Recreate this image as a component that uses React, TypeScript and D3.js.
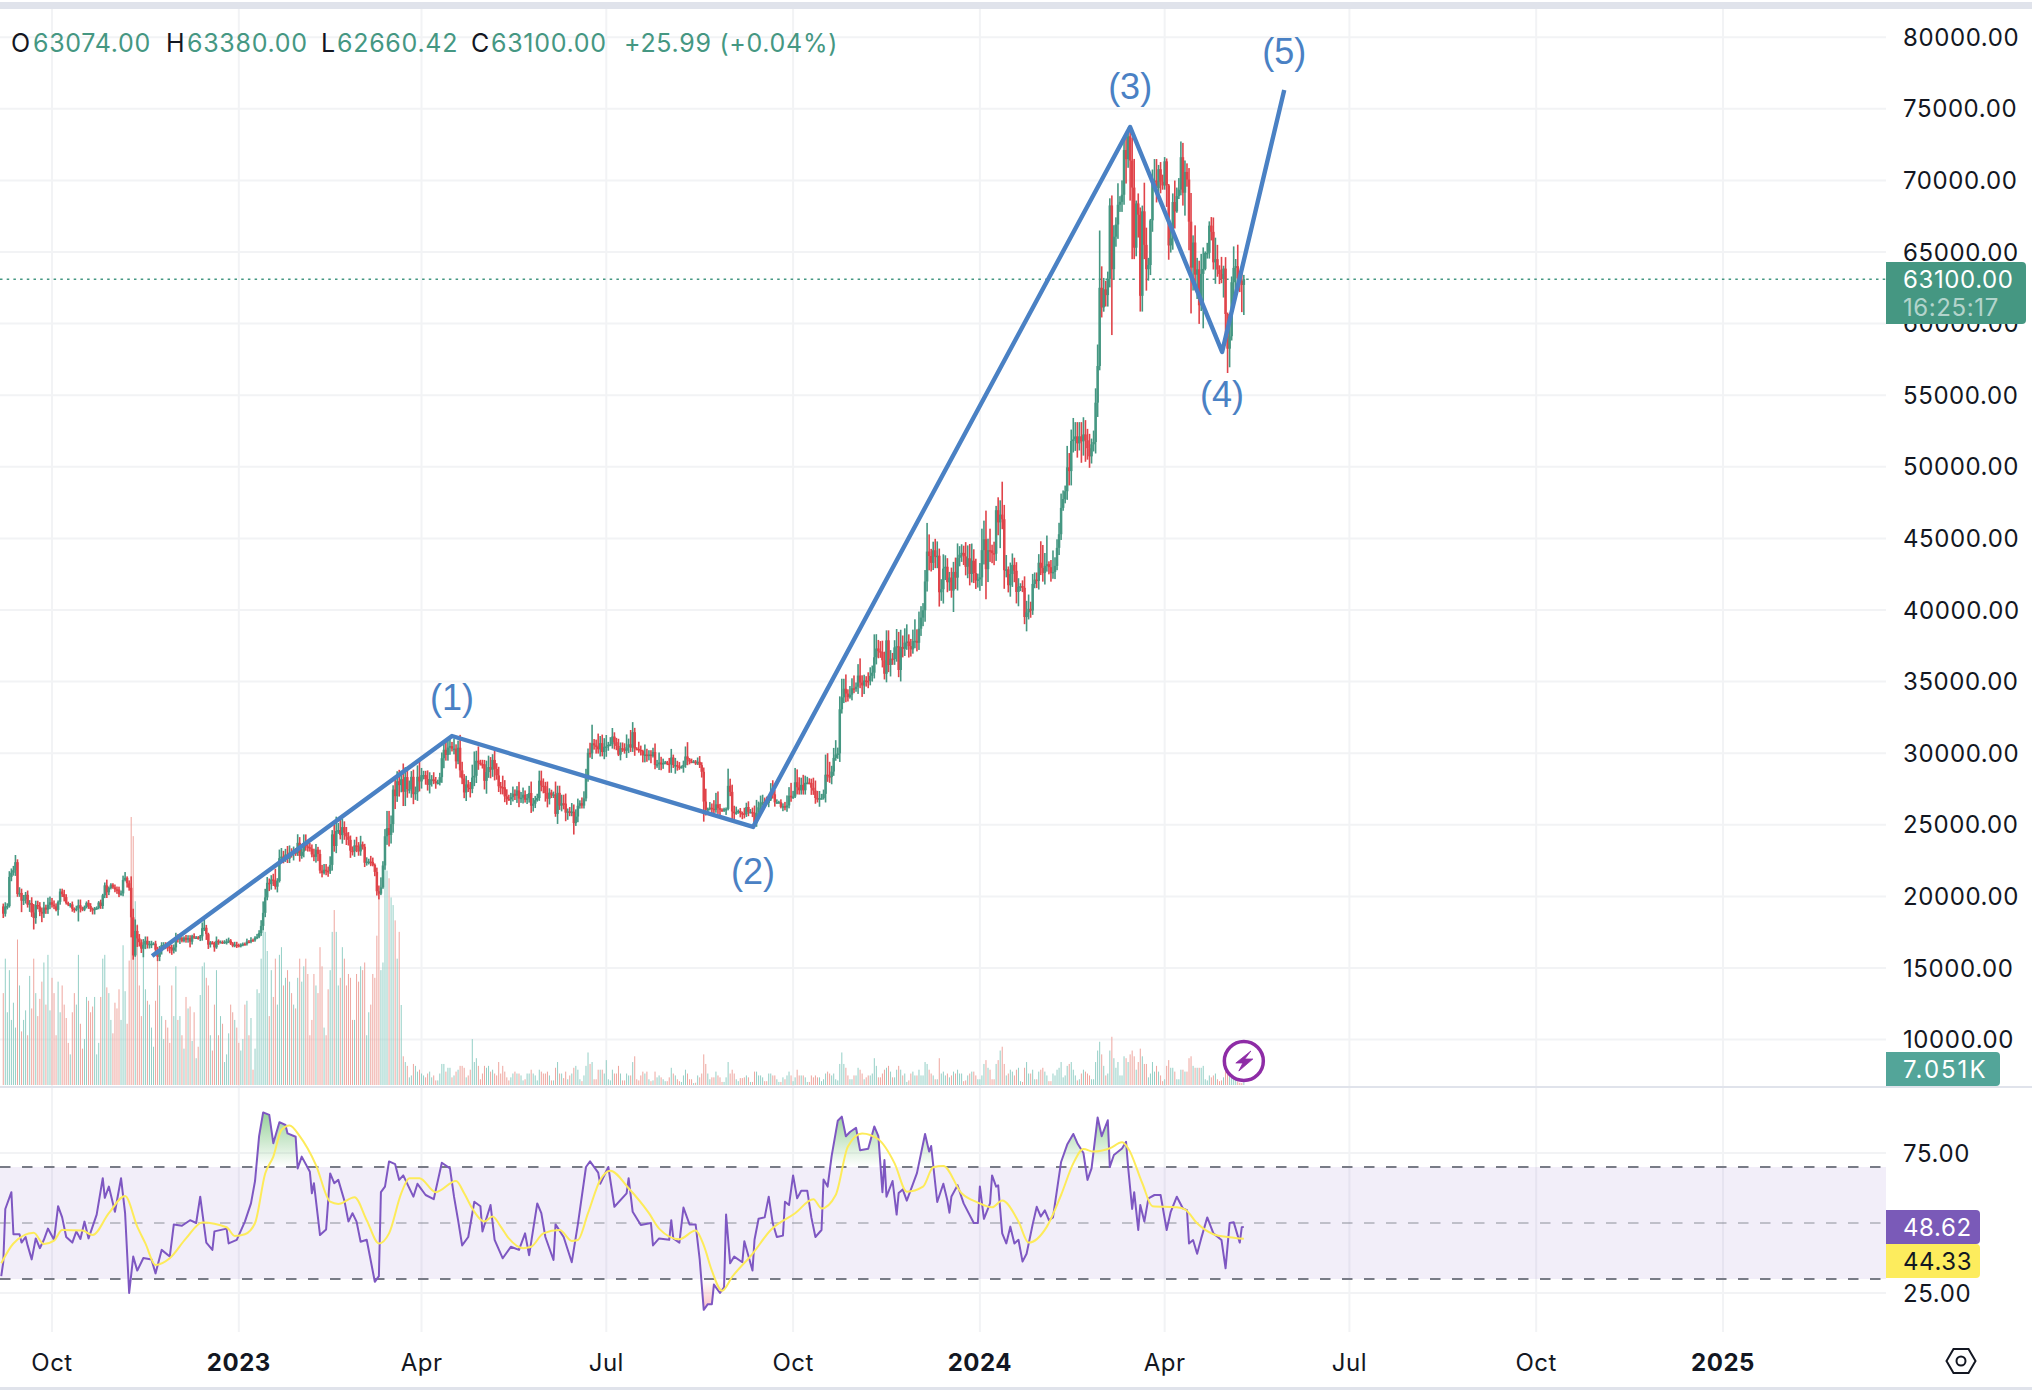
import React from "react";
import * as d3 from "d3";

// daily closes in thousands, first bar plotted on 2022-09-07
const closes = [
  18.79,19.29,19.32,21.36,21.65,21.83,22.39,20.17,20.24,19.70,19.80,20.11,19.42,19.54,18.87,18.49,19.40,19.30,18.92,18.80,19.22,19.08,19.41,19.59,19.42,
  19.31,19.06,19.62,20.34,20.16,19.95,19.53,19.42,19.44,19.13,19.06,19.15,19.38,19.18,19.07,19.26,19.55,19.33,19.12,19.04,19.16,19.20,19.57,19.33,20.08,20.77,20.29,20.59,20.82,20.63,20.49,
  20.48,20.15,20.21,21.15,21.30,20.92,20.60,18.54,15.88,17.59,17.07,16.80,16.35,16.62,16.90,16.66,16.69,16.70,16.70,16.28,15.78,16.24,16.60,16.60,16.52,16.46,16.43,16.22,16.44,17.16,
  16.98,17.09,16.89,17.11,16.97,17.09,16.84,17.22,17.13,17.13,17.08,17.21,17.78,17.81,17.36,16.63,16.78,16.74,16.44,16.90,16.82,16.82,16.78,16.84,16.84,16.92,16.71,16.55,16.63,16.60,16.54,
  16.62,16.68,16.67,16.85,16.83,16.95,16.94,17.12,17.18,17.44,17.94,18.85,19.93,20.95,20.87,21.18,21.13,20.68,21.07,22.67,22.78,22.71,22.92,22.63,23.06,23.01,23.08,23.03,23.74,22.83,23.13,
  23.73,23.49,23.43,23.33,22.93,22.76,23.26,22.96,21.80,21.63,21.86,21.78,21.77,22.20,24.33,23.52,24.57,24.63,24.28,24.84,24.45,24.19,23.95,23.19,23.16,23.56,23.49,23.14,
  23.63,23.47,22.35,22.43,22.43,22.41,22.20,21.71,20.36,20.19,20.63,22.16,24.20,24.77,24.29,25.05,27.46,27.00,28.04,27.77,28.18,27.31,28.33,27.49,27.49,28.35,27.14,27.27,28.35,28.03,28.47,
  28.47,28.20,27.79,28.17,28.17,28.04,27.92,27.95,28.33,29.65,30.24,29.88,30.39,30.49,30.32,30.32,29.43,30.38,28.80,28.24,27.26,27.82,27.59,27.51,28.30,28.42,29.47,29.34,29.24,29.23,
  28.07,28.68,29.03,28.85,29.53,28.90,28.45,27.69,27.63,27.62,26.98,26.80,26.78,26.93,27.17,27.03,27.40,26.83,26.89,27.10,26.75,26.85,27.22,26.33,26.47,26.72,26.87,28.08,27.74,27.70,27.22,
  26.82,27.25,27.07,27.12,25.76,27.23,26.34,26.50,26.48,25.85,25.94,25.90,25.92,25.12,25.58,26.33,26.51,26.34,26.84,28.31,30.03,29.99,30.69,30.55,30.47,30.27,30.70,30.08,30.45,30.47,
  30.59,30.62,31.16,30.77,30.51,29.90,30.35,30.29,30.17,30.41,30.62,30.39,31.47,30.32,30.30,30.23,30.14,29.86,29.91,29.80,29.91,29.80,30.08,29.18,29.23,29.35,29.21,29.32,29.36,29.27,29.23,
  29.70,29.17,29.17,29.08,29.04,29.04,29.18,29.77,29.56,29.42,29.40,29.42,29.28,29.40,29.17,28.70,26.62,26.05,26.10,26.19,26.12,26.04,26.43,26.16,26.05,26.00,26.09,26.11,27.72,27.30,25.93,
  25.80,25.87,25.97,25.82,25.79,25.75,26.24,25.90,25.90,25.84,25.16,25.84,26.22,26.54,26.60,26.57,26.53,26.76,27.21,27.13,26.57,26.58,26.58,26.25,26.30,26.21,26.35,27.03,26.91,26.97,
  27.97,27.62,27.41,27.79,27.41,27.93,27.95,27.92,27.59,27.39,26.87,26.76,26.86,26.86,27.16,28.50,28.40,28.33,28.72,29.67,29.91,29.99,33.07,33.90,34.50,34.16,33.91,34.09,34.53,34.49,34.64,
  35.42,34.94,34.73,35.08,35.05,35.04,35.40,35.62,36.70,37.31,37.13,37.06,36.49,35.55,37.88,36.16,36.60,36.57,37.39,37.47,35.81,37.42,37.29,37.72,37.80,37.48,37.25,37.83,37.85,37.71,
  38.69,39.47,39.98,41.99,44.08,43.77,43.29,44.17,43.72,43.79,41.24,41.45,42.89,43.02,41.94,42.26,41.36,42.66,42.26,43.65,43.86,43.99,43.74,43.02,43.61,42.52,43.44,42.58,42.07,42.14,42.28,
  44.18,44.94,42.85,44.18,44.16,43.97,43.93,46.97,46.12,46.66,46.34,42.78,42.84,41.73,42.51,43.15,42.74,41.26,41.62,41.67,41.55,39.51,39.84,40.08,39.96,41.82,42.12,42.03,43.30,42.94,42.58,
  43.08,43.20,42.99,42.58,42.66,43.08,44.34,45.29,47.13,47.75,48.29,49.96,49.70,51.80,51.91,52.12,51.64,52.12,51.78,52.26,51.85,51.30,50.73,51.57,51.73,54.48,57.04,62.50,61.13,
  62.39,61.99,63.13,68.25,63.80,66.07,66.92,68.30,68.50,69.00,72.12,71.48,73.08,71.39,69.50,65.30,68.39,67.61,61.94,67.84,65.50,63.80,64.09,67.21,69.96,69.99,69.46,70.78,69.90,69.65,71.33,
  69.65,65.46,65.96,68.49,67.84,68.90,69.36,71.62,69.14,70.59,70.06,67.12,63.91,65.66,63.42,63.79,61.28,63.47,63.82,64.94,64.94,66.84,66.41,64.28,64.50,63.77,63.46,63.12,63.84,60.67,
  58.25,59.12,62.89,63.89,64.01,63.16,63.0,62.7,63.1,
];

// wick lengths above and below the body, in units of 100
const wickUp = [
  2,3,2,4,3,3,5,2,4,3,3,2,3,2,4,6,3,3,3,3,4,2,5,4,3,
  3,2,1,2,2,3,2,1,1,2,1,2,4,4,1,1,1,2,2,1,1,1,1,2,1,2,4,1,1,1,2,
  2,2,2,3,4,1,2,8,6,8,4,3,2,4,3,3,2,2,1,2,2,3,2,2,2,1,3,2,2,3,
  2,1,1,1,2,2,2,1,2,1,1,1,4,6,2,1,1,1,1,3,1,1,1,1,2,2,1,1,2,2,1,
  1,1,1,2,1,2,1,1,2,2,4,8,6,4,3,3,4,8,2,6,6,4,4,6,5,3,4,3,6,4,2,
  6,6,3,3,3,4,4,2,3,4,4,4,3,6,3,9,10,5,8,6,4,4,3,3,3,4,6,3,
  6,2,2,3,2,4,3,1,3,4,7,3,5,12,12,6,3,9,7,8,6,11,7,7,6,4,5,4,8,12,5,
  3,3,6,5,3,5,3,2,3,4,6,6,5,6,3,7,3,5,9,6,3,6,3,4,9,17,7,10,2,3,
  3,8,8,7,4,7,4,6,3,8,5,5,3,3,5,3,3,6,4,5,3,3,5,8,4,3,3,7,7,5,3,
  8,3,2,2,9,5,5,6,6,7,2,3,6,5,5,5,2,4,5,6,3,7,13,3,4,9,5,6,6,8,
  2,5,6,3,3,5,4,4,4,9,4,10,7,3,1,5,3,1,7,4,3,3,3,6,3,7,4,3,1,1,4,
  6,2,5,3,3,1,3,7,10,1,2,1,1,3,4,2,3,9,1,4,3,6,8,9,3,1,1,1,12,5,5,
  4,4,1,2,1,4,3,4,2,3,5,9,4,5,5,3,4,3,7,9,3,2,1,2,2,3,7,6,9,4,
  10,9,7,5,7,5,4,3,3,7,7,5,5,3,3,14,15,10,4,7,10,4,9,13,7,10,3,6,7,9,3,
  8,12,5,4,3,6,6,5,16,10,6,7,8,6,7,7,6,4,5,12,10,12,8,10,12,5,5,8,15,8,
  12,8,5,8,20,12,5,6,8,10,5,7,10,8,6,4,7,7,10,10,6,6,5,10,9,10,12,8,10,4,10,
  15,13,20,8,15,4,8,3,9,10,23,10,10,2,8,8,5,6,6,2,4,8,8,10,5,7,5,5,6,15,16,
  9,20,2,5,15,6,6,8,10,6,4,15,10,8,15,10,10,10,10,12,10,8,10,4,8,10,15,40,15,
  8,6,5,5,7,8,5,15,4,10,8,11,6,3,16,20,2,7,5,4,20,12,5,1,8,15,15,3,5,5,3,
  2,1,10,6,15,6,8,11,10,8,6,8,20,5,12,8,6,14,15,1,7,3,6,10,15,10,3,12,2,8,
  1,10,4,15,5,15,5,6,3,
];
const wickDown = [
  3,2,2,1,3,2,4,2,2,8,3,3,2,5,3,8,4,2,3,6,3,3,3,3,2,
  2,1,4,2,2,3,1,1,2,2,2,1,9,3,1,1,1,2,2,3,3,1,1,2,2,2,4,2,1,1,2,
  3,2,1,2,1,3,2,14,3,1,6,3,3,6,3,3,3,3,1,4,3,3,3,2,2,3,4,3,2,3,
  2,3,1,1,2,2,4,2,1,1,1,2,3,2,4,3,2,1,3,1,2,1,1,1,2,1,1,1,1,2,1,
  1,1,1,1,1,1,1,1,1,1,2,3,3,2,5,4,4,2,4,1,3,4,3,3,3,3,5,2,2,4,2,
  4,3,3,2,2,3,4,5,2,3,1,3,4,2,4,4,5,2,3,6,5,6,4,5,3,4,4,3,
  3,2,3,2,2,3,1,3,3,4,1,1,3,6,8,6,6,9,4,8,5,10,10,6,3,6,7,4,6,7,5,
  3,4,4,6,5,2,4,1,2,4,7,4,4,5,2,4,5,2,5,4,4,6,3,6,3,6,5,5,1,3,
  6,9,4,6,5,8,3,4,5,5,4,4,1,4,3,3,5,6,3,4,2,3,3,5,4,3,1,2,4,5,6,
  6,4,2,2,2,7,3,4,4,6,5,3,3,8,2,4,2,2,2,2,3,3,4,3,5,3,5,3,5,7,
  3,1,3,5,3,1,4,2,2,5,4,3,3,5,1,2,3,5,5,4,3,5,1,3,2,4,4,3,1,1,6,
  6,2,6,3,2,1,4,2,4,2,1,1,1,1,2,4,14,4,3,1,3,3,2,4,4,1,1,4,1,3,6,
  5,1,1,3,4,3,2,3,1,3,3,3,2,2,2,2,1,3,1,3,3,1,1,1,3,2,3,2,3,1,
  1,5,3,3,3,3,1,1,5,3,4,2,5,1,1,6,4,4,5,3,2,3,6,3,4,6,3,1,4,3,2,
  5,4,8,6,4,5,3,4,4,5,5,4,5,4,6,5,8,4,4,10,5,8,6,5,5,8,5,3,5,6,
  5,5,6,8,7,10,6,5,8,8,10,6,10,8,7,6,5,15,8,9,6,5,6,6,8,8,6,7,6,5,8,
  6,10,21,9,8,7,8,5,9,18,7,13,5,5,8,9,8,8,10,3,3,5,10,5,5,3,3,5,6,5,6,
  8,4,5,6,4,5,3,5,4,2,3,6,10,10,8,8,10,5,15,10,15,8,8,5,5,8,10,3,7,
  3,8,8,6,46,7,7,10,5,7,7,17,6,28,50,8,6,16,11,11,10,15,8,7,8,7,10,6,8,3,3,
  15,10,5,8,12,1,2,4,9,16,5,20,32,16,11,17,13,4,38,1,4,4,6,5,15,5,7,3,13,15,
  17,13,3,10,14,6,8,19,21,
];

// volume in thousands
const volumes = [
  240,330,190,300,170,215,150,380,260,140,170,195,130,285,200,330,240,180,225,270,320,210,340,195,280,
  240,130,270,190,260,210,175,110,80,190,240,210,340,160,95,120,230,220,190,205,230,80,110,230,330,340,255,240,170,135,215,
  200,250,170,365,245,160,325,700,650,480,420,260,180,370,250,220,210,150,100,220,330,260,180,120,170,150,110,260,180,310,
  170,180,130,95,230,200,205,115,190,70,100,235,310,320,280,260,130,90,210,300,130,180,160,60,80,135,210,190,170,150,110,
  90,120,210,220,130,175,40,95,250,240,330,440,400,350,180,300,230,330,210,340,360,260,280,300,270,240,210,200,280,330,270,
  310,330,290,130,170,290,260,240,360,310,150,130,250,300,400,457,400,260,280,360,330,260,290,280,170,170,290,270,
  310,300,320,130,190,210,290,280,390,500,300,320,575,560,540,490,470,430,330,400,209,
  75,60,50,20,25,55,50,35,40,30,
  25,20,30,35,20,25,12,12,30,55,55,35,45,45,20,25,35,40,50,50,45,20,25,40,120,60,70,50,15,30,
  50,45,50,35,40,30,25,60,30,50,35,20,12,20,30,35,30,30,25,12,15,30,30,40,30,25,12,40,35,30,30,
  35,25,12,12,45,60,30,30,18,35,15,25,30,45,50,40,15,10,25,50,85,55,60,15,15,40,40,40,30,65,
  15,12,40,30,30,50,30,12,12,30,25,25,60,75,15,12,25,35,30,35,15,10,12,35,20,25,20,15,10,10,20,
  45,30,25,15,10,8,25,40,30,15,15,5,6,25,20,30,80,55,30,15,20,20,35,25,20,8,8,20,60,30,40,
  30,15,10,18,18,20,25,20,8,8,35,35,25,25,20,10,10,30,30,25,25,15,8,8,20,15,25,35,25,10,
  20,40,25,25,25,20,8,8,25,20,25,20,20,10,15,30,35,30,25,30,15,12,55,85,55,45,25,15,15,25,25,
  45,40,30,15,20,25,25,30,70,50,20,20,30,40,45,50,35,20,20,40,50,40,25,30,8,12,30,35,25,25,
  40,25,25,60,55,40,30,25,15,15,70,30,35,25,30,20,25,35,30,40,30,30,10,12,25,30,35,35,25,15,15,
  25,55,65,45,40,15,15,55,65,90,100,55,25,30,40,35,25,40,45,10,8,45,60,30,30,40,15,15,35,40,45,
  35,25,10,10,30,25,40,45,60,20,25,50,55,60,40,25,12,15,30,40,35,30,25,15,15,60,90,113,80,
  50,25,30,90,126,70,45,60,25,25,75,70,60,80,90,75,40,60,95,75,55,55,20,30,60,35,50,35,25,10,15,
  50,65,45,45,35,15,15,40,40,35,35,70,75,50,45,45,45,45,50,15,12,25,20,25,30,15,10,12,20,55,
  50,35,22,18,15,10,6,5,7.051,
];

// RSI: bar number and value
const rsiBars = [
  -1,0,1,4,5,8,9,11,12,14,16,18,20,22,25,27,29,31,34,36,38,40,42,46,49,50,52,55,58,60,62,64,66,69,73,75,78,82,84,88,92,95,97,100,103,104,110,111,115,119,122,124,126,128,131,133,136,139,140,144,145,147,151,152,153,156,159,161,163,165,168,170,172,174,176,179,183,185,186,188,190,193,195,197,202,204,208,212,216,220,222,224,226,229,232,235,236,240,242,246,250,254,257,259,263,265,267,271,272,276,280,283,287,289,293,294,298,301,307,308,310,314,319,
  320,323,328,329,330,333,335,338,341,343,345,347,349,350,353,355,356,358,360,364,365,369,370,372,375,377,379,381,384,385,387,389,391,393,396,398,400,403,404,406,408,411,413,415,417,420,422,426,429,431,433,434,435,438,440,441,443,445,450,454,456,457,460,463,465,466,467,470,473,478,480,481,483,486,487,489,490,492,494,496,498,500,502,504,507,509,511,513,515,517,521,524,527,529,532,534,536,539,541,544,545,547,551,553,554,556,557,559,560,562,564,567,570,573,575,578,581,583,584,586,588,590,593,596,600,602,604,606,609,610,611,
];
const rsiValues = [
  31,36,55,61,46,46,43,45,42,37,44.5,41,44,48,44,56,52,45,43,47,44.3,50.5,44.5,53,66,59,63,54,66,53.5,25,38,33,37.5,37,32,40.4,38,49.5,49,51,50,59.4,43,40.4,47,48,42.7,44,50.5,57,65,81,89.5,88.6,78.5,86,85,82,80.8,69.5,73.7,68.3,60.6,64.2,45.7,47.7,67.7,64.2,65.4,58,50.5,53.5,50.5,43.3,44,29,31,61,63,72,71,65.4,67,59.4,64,60,58.5,71.5,69.5,59.4,51,42,45,57.6,56,47,56.4,44,37.4,41.5,40.4,46.3,38.5,57,53.5,45,36.8,49.5,45,36,49.5,70,72,68,64,70,55.8,60.6,66,54,49.3,50,
  42,44.5,44,51,44.5,43,55.5,49.5,49.5,37,19,21,21,28,25,27,53,35.6,38,36,43.5,33,44,51.5,52,59.4,49.9,45,45.5,57.6,56.4,67,58.8,61.5,61.5,52,45,47.5,65.5,63,74,86.5,88,81,82.5,84,76,76.5,84.5,81,61,72.5,59.4,65,53,60.7,62,58,67.8,81.8,75.5,77.5,57.5,64,58,53.7,59.5,63.5,57,50,50,63,51.5,57,67,63,63.5,46.3,42.7,48.7,42.7,44,36.2,39,49.5,55.8,52.3,54.5,51,52,71.8,78,81.8,78.5,75,65.4,69.5,87.7,81,86.7,70,74.3,76.6,79,70,55,61,47.5,56.4,50.5,58.8,60,60,47.5,54,59.4,55.2,54.6,42.7,43.9,39,44.5,52,46.3,43.9,33.8,50,50.3,43,48.5,48.62,
];

// RSI moving average, same reading
const maBars = [
  -1,5,15,20,25,29,39,44,52,60,66,70,75,82,90,98,110,114,119,124,129,133,137,141,146,154,161,165,173,179,185,190,196,200,205,213,223,227,231,237,241,245,249,256,260,266,274,280,283,288,294,299,308,318,
  323,333,341,345,349,354,359,369,378,390,399,403,410,416,423,431,439,445,453,458,463,472,480,487,492,500,505,514,521,527,532,537,545,551,554,561,566,578,582,588,596,604,611,
];
const maValues = [
  35.6,42.7,46.5,42.5,43.7,47.5,47.3,45.7,53.5,59.6,48.7,42.7,35,37.4,44.5,50.2,48.5,45.4,46,50,67.7,73.7,83.2,84.8,81,70.7,57.6,56.8,59.2,51,42.7,46.3,60.6,66,66,61,65,60.6,55.2,50.5,52.3,48.7,44.5,41,41.5,46.3,47.5,43.6,43.9,53.5,65.4,68.7,62.4,53.5,
  48,44.2,47.3,42,33,25.8,30.8,39,47.5,53.5,58.5,55.2,60,77.3,82,79.9,71.3,61.2,63,69.9,70.4,60.6,57.3,55.6,58,50.5,43,48.7,60,71.3,76.4,75.5,76.7,78.8,76.7,64.2,56,55.6,54.9,49.9,46,44.9,44.33,
];

// hand drawn wave count
const waveBars = [73.3, 221, 369.3, 555, 600.3, 630.9];
const wavePrices = [15.84, 31.2, 24.85, 73.73, 58.02, 76.31];
const waveLabels = ["", "(1)", "(2)", "(3)", "(4)", "(5)"];
const waveLabelOffsets = [0, -39, 45, -40, 43, -39];

const priceTicks = [80, 75, 70, 65, 60, 55, 50, 45, 40, 35, 30, 25, 20, 15, 10];
const rsiGrid = [75, 25];
const timeTicks = ["2022-10-01", "2023-01-01", "2023-04-01", "2023-07-01", "2023-10-01", "2024-01-01", "2024-04-01", "2024-07-01", "2024-10-01", "2025-01-01"];
const timeLabels = ["Oct", "2023", "Apr", "Jul", "Oct", "2024", "Apr", "Jul", "Oct", "2025"];

const UP = "#459782";
const DOWN = "#e0444a";
const VOL_UP = "#94cfc6";
const VOL_DOWN = "#eea69f";
const WAVE = "#4a81c4";
const GRID = "#f2f3f5";
const BORDER = "#e0e3eb";
const INK = "#131722";
const FONT = "Inter, sans-serif";
const PANE_RIGHT = 1886;

const DAY = 86400000;
const firstBar = Date.UTC(2022, 8, 7);

const x = d3
  .scaleUtc()
  .domain([new Date("2022-10-01"), new Date("2025-01-01")])
  .range([52, 1723]);
const barX = (i: number) => x(new Date(firstBar + i * DAY));
const priceY = d3.scaleLinear().domain([10, 80]).range([1039.6, 37.2]);
const volY = d3.scaleLinear().domain([0, 700]).range([1085, 817]);
const rsiY = d3.scaleLinear().domain([30, 70]).range([1279, 1167]);

const opens = closes.map((c, i) => (i ? closes[i - 1] : 19.3));

const rsiPoints = rsiBars.map((b, i) => [barX(b), rsiY(rsiValues[i])] as [number, number]);
const maPoints = maBars.map((b, i) => [barX(b), rsiY(maValues[i])] as [number, number]);
const rsiPath = d3.line()(rsiPoints) || "";
const maPath = d3.line().curve(d3.curveMonotoneX)(maPoints) || "";
const obArea = d3.area().y0(rsiY(70))(rsiPoints) || "";
const osArea = d3.area().y0(rsiY(30))(rsiPoints) || "";
const wavePath =
  d3
    .line<number>()
    .x((b) => barX(b))
    .y((_, i) => priceY(wavePrices[i]))(waveBars) || "";

// axis tag with square left side and rounded right corners
const tagPath = (x0: number, x1: number, y0: number, y1: number) => {
  const r = 4;
  return `M${x0},${y0}H${x1 - r}Q${x1},${y0} ${x1},${y0 + r}V${y1 - r}Q${x1},${y1} ${x1 - r},${y1}H${x0}Z`;
};

const headerParts = [
  { x: 11, text: "O", fill: INK },
  { x: 33, text: "63074.00", fill: UP },
  { x: 166, text: "H", fill: INK },
  { x: 187, text: "63380.00", fill: UP },
  { x: 321, text: "L", fill: INK },
  { x: 337, text: "62660.42", fill: UP },
  { x: 471, text: "C", fill: INK },
  { x: 491, text: "63100.00", fill: UP },
  { x: 624, text: "+25.99 (+0.04%)", fill: UP },
];

const App: React.FC = () => {
  return (
    <svg
      width={2032}
      height={1390}
      style={{ position: "absolute", left: 0, top: 0, background: "#fff" }}
      fontFamily={FONT}
    >
      <defs>
        <clipPath id="above70">
          <rect x={0} y={rsiY(90)} width={PANE_RIGHT} height={rsiY(70) - rsiY(90)} />
        </clipPath>
        <clipPath id="below30">
          <rect x={0} y={rsiY(30)} width={PANE_RIGHT} height={rsiY(10) - rsiY(30)} />
        </clipPath>
        <linearGradient id="obFill" gradientUnits="userSpaceOnUse" x1={0} x2={0} y1={rsiY(90)} y2={rsiY(70)}>
          <stop offset="0" stopColor="#4caf50" stopOpacity={0.6} />
          <stop offset="1" stopColor="#4caf50" stopOpacity={0} />
        </linearGradient>
        <linearGradient id="osFill" gradientUnits="userSpaceOnUse" x1={0} x2={0} y1={rsiY(30)} y2={rsiY(18)}>
          <stop offset="0" stopColor="#f23645" stopOpacity={0} />
          <stop offset="1" stopColor="#f23645" stopOpacity={0.35} />
        </linearGradient>
      </defs>

      {/* borders */}
      <rect x={0} y={2} width={2032} height={7} fill={BORDER} />
      <rect x={0} y={1387} width={2032} height={3} fill={BORDER} />

      {/* grid */}
      {priceTicks.map((t) => (
        <line key={t} x1={0} x2={PANE_RIGHT} y1={priceY(t)} y2={priceY(t)} stroke={GRID} strokeWidth={2} />
      ))}
      {rsiGrid.map((t) => (
        <line key={t} x1={0} x2={PANE_RIGHT} y1={rsiY(t)} y2={rsiY(t)} stroke={GRID} strokeWidth={2} />
      ))}
      {timeTicks.map((t) => (
        <line key={t} x1={x(new Date(t))} x2={x(new Date(t))} y1={9} y2={1332} stroke={GRID} strokeWidth={2} />
      ))}
      <line x1={0} x2={2032} y1={1087} y2={1087} stroke={BORDER} strokeWidth={2} />

      {/* volume */}
      {volumes.map((v, i) => (
        <rect
          key={i}
          x={barX(i) - 0.5}
          y={volY(v)}
          width={1}
          height={volY(0) - volY(v)}
          fill={closes[i] >= opens[i] ? VOL_UP : VOL_DOWN}
        />
      ))}

      {/* last price line */}
      <line
        x1={0}
        x2={PANE_RIGHT}
        y1={priceY(63.1)}
        y2={priceY(63.1)}
        stroke={UP}
        strokeWidth={1.5}
        strokeDasharray="2.5 4.2"
      />

      {/* candles */}
      {closes.map((c, i) => {
        const top = Math.max(c, opens[i]);
        const bottom = Math.min(c, opens[i]);
        const fill = c >= opens[i] ? UP : DOWN;
        const bodyTop = priceY(top);
        const bodyHeight = Math.max(priceY(bottom) - bodyTop, 1.5);
        return (
          <g key={i} fill={fill}>
            <rect
              x={barX(i) - 0.8}
              y={priceY(top + wickUp[i] / 10)}
              width={1.6}
              height={priceY(bottom - wickDown[i] / 10) - priceY(top + wickUp[i] / 10)}
            />
            <rect x={barX(i) - 1.25} y={bodyTop} width={2.5} height={bodyHeight} />
          </g>
        );
      })}

      {/* wave count */}
      <path d={wavePath} fill="none" stroke={WAVE} strokeWidth={4.4} strokeLinejoin="round" />
      {waveLabels.map((label, i) =>
        label ? (
          <text
            key={i}
            x={barX(waveBars[i])}
            y={priceY(wavePrices[i]) + waveLabelOffsets[i]}
            textAnchor="middle"
            dominantBaseline="central"
            fontFamily="'Liberation Sans', sans-serif"
            fontSize={36}
            fill={WAVE}
          >
            {label}
          </text>
        ) : null
      )}

      {/* header */}
      {headerParts.map((p) => (
        <text key={p.x} x={p.x} y={43} dominantBaseline="central" fontSize={25} letterSpacing={0.7} fill={p.fill}>
          {p.text}
        </text>
      ))}

      {/* bolt badge */}
      <circle cx={barX(611)} cy={1061} r={19.5} fill="#fff" stroke="#8e2ca6" strokeWidth={3.5} />
      <polygon
        transform={`translate(${barX(611)},1061)`}
        points="7,-10 -8,2 -1,2 -5,10 9,-2 1,-2"
        fill="#8e2ca6"
        stroke="#8e2ca6"
        strokeWidth={0.8}
      />

      {/* RSI pane */}
      <rect x={0} y={rsiY(70)} width={PANE_RIGHT} height={rsiY(30) - rsiY(70)} fill="#7e57c2" fillOpacity={0.1} />
      <path d={obArea} fill="url(#obFill)" clipPath="url(#above70)" />
      <path d={osArea} fill="url(#osFill)" clipPath="url(#below30)" />
      {[70, 30].map((v) => (
        <line key={v} x1={0} x2={PANE_RIGHT} y1={rsiY(v)} y2={rsiY(v)} stroke="#787b86" strokeWidth={2} strokeDasharray="10.5 11.5" />
      ))}
      <line x1={0} x2={PANE_RIGHT} y1={rsiY(50)} y2={rsiY(50)} stroke="#787b86" strokeOpacity={0.55} strokeWidth={1.6} strokeDasharray="10.5 11.5" />
      <path d={rsiPath} fill="none" stroke="#7e57c2" strokeWidth={2} strokeLinejoin="round" />
      <path d={maPath} fill="none" stroke="#fdeb5a" strokeWidth={2} />

      {/* price axis */}
      <g fontSize={24} letterSpacing={0.6}>
        {priceTicks.map((t) => (
          <text key={t} x={1903} y={priceY(t)} dominantBaseline="central" fill={INK}>
            {(t * 1000).toFixed(2)}
          </text>
        ))}
        {rsiGrid.map((t) => (
          <text key={t} x={1903} y={rsiY(t)} dominantBaseline="central" fill={INK}>
            {t.toFixed(2)}
          </text>
        ))}

        {/* value tags */}
        <path d={tagPath(PANE_RIGHT, 2026, 262, 324)} fill={UP} />
        <text x={1903} y={279} dominantBaseline="central" fill="#fff">63100.00</text>
        <text x={1903} y={307} dominantBaseline="central" fill="#fff" fillOpacity={0.6}>16:25:17</text>
        <path d={tagPath(PANE_RIGHT, 2000, 1052, 1086)} fill="#53a599" />
        <text x={1903} y={1069} dominantBaseline="central" letterSpacing={2} fill="#fff">7.051K</text>
        <path d={tagPath(PANE_RIGHT, 1980, 1210, 1244)} fill="#7a5ab8" />
        <text x={1903} y={1227} dominantBaseline="central" fill="#fff">48.62</text>
        <path d={tagPath(PANE_RIGHT, 1980, 1244, 1278)} fill="#fdec5d" />
        <text x={1903} y={1261} dominantBaseline="central" fill={INK}>44.33</text>
      </g>

      {/* time axis */}
      {timeTicks.map((t, i) => (
        <text
          key={t}
          x={x(new Date(t))}
          y={1362}
          textAnchor="middle"
          dominantBaseline="central"
          fontSize={24}
          letterSpacing={0.5}
          fontWeight={/^\d/.test(timeLabels[i]) ? 700 : 400}
          fill={INK}
        >
          {timeLabels[i]}
        </text>
      ))}

      {/* settings icon */}
      <g transform="translate(1961,1361)" fill="none" stroke={INK} strokeWidth={2}>
        <polygon points="-14.5,0 -7.5,-12 7.5,-12 14.5,0 7.5,12 -7.5,12" />
        <circle r={4.5} />
      </g>
    </svg>
  );
};

export default App;
